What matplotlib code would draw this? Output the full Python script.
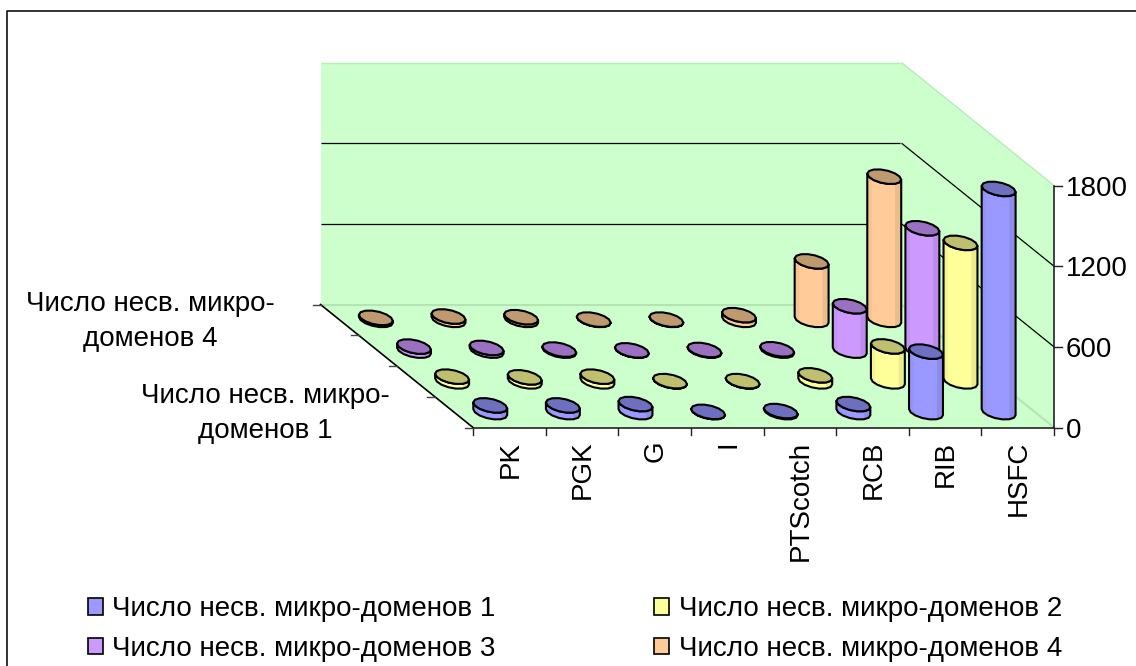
import numpy as np
import matplotlib
matplotlib.use("Agg")
import matplotlib.pyplot as plt
from matplotlib.patches import Polygon, Patch

plt.rcParams['font.family'] = ['Liberation Sans', 'DejaVu Sans']

categories = ['PK', 'PGK', 'G', 'I', 'PTScotch', 'RCB', 'RIB', 'HSFC']
series_names = ['Число несв. микро-доменов 1', 'Число несв. микро-доменов 2',
                'Число несв. микро-доменов 3', 'Число несв. микро-доменов 4']

domains_1 = [50, 50, 60, 2, 8, 60, 450, 1660]
domains_2 = [35, 30, 35, 2, 2, 45, 260, 1030]
domains_3 = [30, 20, 8, 2, 5, 10, 330, 910]
domains_4 = [15, 25, 20, 2, 2, 35, 435, 1065]
all_series = [domains_1, domains_2, domains_3, domains_4]

value_ticks = [0, 600, 1200, 1800]

# colours: body, darker side strip, top cap
body_colors = ['#9999FF', '#FFFF99', '#CC99FF', '#FFCC99']
strip_colors = ['#8C8CEB', '#EBEB8C', '#BC8CEB', '#EBBC8C']
left_colors = ['#9494F5', '#F5F594', '#C494F5', '#F5C494']
cap_colors = ['#6F6FC0', '#BFBF70', '#9A70C0', '#BF9A70']
wall_color = '#CCFFCC'

# oblique projection of the 3d box, in pixels
ORIGIN = (473.0, 427.5)
CAT_W = (1054.0 - 473.0) / len(categories)
DEPTH = ((473.0 - 320.5) / len(all_series), (427.5 - 304.5) / len(all_series))
PX_PER_UNIT = 242.0 / 1800.0
R_CAT = 0.213
R_SER = 0.24
SHEAR = 0.03  # straightens the rim a little against the floor skew
RIM_SIDES = 14


def project(cat, ser, val):
    x = ORIGIN[0] + cat * CAT_W - ser * DEPTH[0]
    y = ORIGIN[1] - ser * DEPTH[1] - val * PX_PER_UNIT
    return x, y


def face(ax, pts, **kw):
    ax.add_patch(Polygon(pts, closed=True, **kw))


def rim(cat, ser, val):
    # coarse polygon rim, starting at the left silhouette point and
    # running along the front half first
    lean = R_SER * DEPTH[0] - SHEAR * CAT_W
    t0 = np.arctan2(-lean, R_CAT * CAT_W) - np.pi
    t = t0 + np.arange(RIM_SIDES + 1) * 2 * np.pi / RIM_SIDES
    cc = cat + R_CAT * np.cos(t) + SHEAR * np.sin(t)
    ss = ser + R_SER * np.sin(t)
    return np.array([project(c, s, val) for c, s in zip(cc, ss)])


def cylinder(ax, cat, ser, val, idx):
    half = RIM_SIDES // 2
    base = rim(cat, ser, 0)[:half + 1]
    top = rim(cat, ser, val)
    lift = val * PX_PER_UNIT
    outline = np.vstack([base, top[:half + 1][::-1]])
    face(ax, outline, fc=body_colors[idx], ec='none', zorder=3)
    # facet strips on the left and right of the body
    xl, xr = base[0, 0], base[-1, 0]
    for a, b, col in [(0.0, 0.13, left_colors[idx]), (0.82, 1.0, strip_colors[idx])]:
        xa, xb = xl + a * (xr - xl), xl + b * (xr - xl)
        inner = base[(base[:, 0] > xa) & (base[:, 0] < xb), 0]
        xs = np.concatenate([[xa], inner, [xb]])
        ys = np.interp(xs, base[:, 0], base[:, 1])
        low = np.column_stack([xs, ys])
        high = np.column_stack([xs, ys - lift])
        face(ax, np.vstack([low, high[::-1]]), fc=col, ec='none', zorder=3)
    face(ax, outline, fc='none', ec='black', lw=1.5, joinstyle='round', zorder=3)
    face(ax, top[:-1], fc=cap_colors[idx], ec='black', lw=1.5, joinstyle='round', zorder=3)


fig = plt.figure(figsize=(11.36, 6.66), dpi=100)
ax = fig.add_axes([0, 0, 1, 1])
ax.set_xlim(0, 1136)
ax.set_ylim(666, 0)
ax.axis('off')

n_cat = len(categories)
n_ser = len(all_series)
top_val = value_ticks[-1]

# chart frame
ax.plot([6.5, 6.5, 1136], [666, 10.5, 10.5], color='#111111', lw=1.2)

# walls and floor
face(ax, [project(0, n_ser, 0), project(0, n_ser, top_val), project(n_cat, n_ser, top_val),
          project(n_cat, n_ser, 0)], fc=wall_color, ec='none', zorder=1)
face(ax, [project(n_cat, n_ser, 0), project(n_cat, n_ser, top_val), project(n_cat, 0, top_val),
          project(n_cat, 0, 0)], fc=wall_color, ec='none', zorder=1)
face(ax, [project(0, 0, 0), project(n_cat, 0, 0), project(n_cat, n_ser, 0),
          project(0, n_ser, 0)], fc=wall_color, ec='none', zorder=1)

# gridlines on the back and side walls
for v in value_ticks:
    p0, p1, p2 = project(0, n_ser, v), project(n_cat, n_ser, v), project(n_cat, 0, v)
    if v == 0:
        col, lw = '#B4E4B4', 1.5
    elif v == top_val:
        col, lw = '#B4EEB4', 1.0
    else:
        col, lw = 'black', 0.9
    ax.plot([p0[0], p1[0] - 2], [p0[1], p1[1]], color=col, lw=lw, zorder=2, solid_capstyle='butt')
    ax.plot([p1[0], p2[0]], [p1[1], p2[1]], color=col, lw=lw, zorder=2, solid_capstyle='butt')

# axis lines
axis_col = '#222222'
p_a, p_b = project(0, 0, 0), project(n_cat, 0, 0)
ax.plot([p_a[0], p_b[0]], [p_a[1], p_b[1]], color=axis_col, lw=1.2, zorder=4)
p_c = project(0, n_ser, 0)
ax.plot([p_a[0], p_c[0]], [p_a[1], p_c[1]], color='black', lw=1.2, zorder=4)
p_t = project(n_cat, 0, top_val)
ax.plot([p_b[0], p_t[0]], [p_b[1], p_t[1]], color=axis_col, lw=1.2, zorder=4)

for i in range(n_cat + 1):
    x, y = project(i, 0, 0)
    ax.plot([x, x], [y, y + 7], color=axis_col, lw=1.0, zorder=4)
for s in range(n_ser + 1):
    x, y = project(0, s, 0)
    ax.plot([x - 8, x], [y, y], color='#444444', lw=1.0, zorder=4)
for v in value_ticks:
    x, y = project(n_cat, 0, v)
    ax.plot([x, x + 8], [y, y], color=axis_col, lw=1.0, zorder=4)
    ax.text(x + 12, y, str(v), ha='left', va='center_baseline', fontsize=20, color='black', zorder=5)

for i, name in enumerate(categories):
    x, y = project(i + 0.5, 0, 0)
    ax.text(x + 1, y + 13, name, rotation=90, ha='center', va='top', fontsize=20, color='black')

# series axis labels, wrapped the way they sit beside the floor
for s in (0, 3):
    x, y = project(0, s + 0.5, 0)
    name = series_names[s].replace('микро-доменов', 'микро-\nдоменов')
    ax.text(x - 189, y + 1.5, name, ha='center', va='center', ma='center', fontsize=20,
            linespacing=1.42, color='black')

# cylinders, back row first
for s in range(n_ser - 1, -1, -1):
    for i in range(n_cat):
        cylinder(ax, i + 0.5, s + 0.5, all_series[s][i], s)

# legend fills column by column
order = [0, 2, 1, 3]
handles = [Patch(fc=body_colors[k], ec='black', lw=1.2) for k in order]
ax.legend(handles, [series_names[k] for k in order], ncol=2, fontsize=20,
          loc='upper left', bbox_to_anchor=(88, 596), bbox_transform=ax.transData,
          frameon=False, handlelength=0.55, handleheight=0.55, handletextpad=0.33,
          labelspacing=0.5, columnspacing=5.7, borderpad=0, borderaxespad=0)

fig.savefig('out.png', dpi=100)
